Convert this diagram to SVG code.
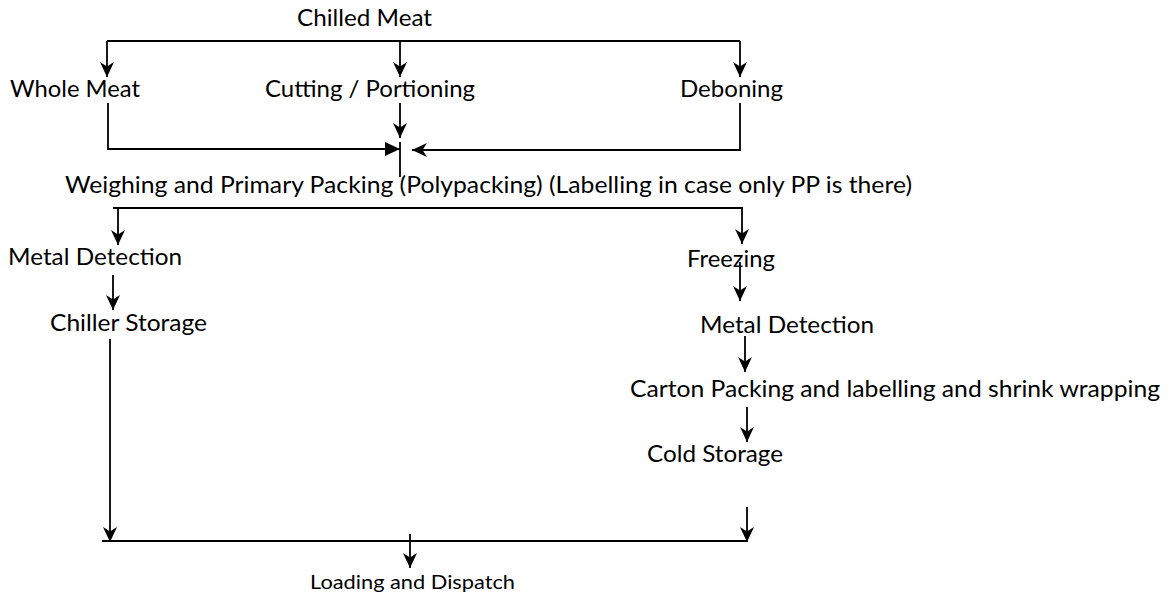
<svg xmlns="http://www.w3.org/2000/svg" width="1168" height="594" viewBox="0 0 1168 594">
  <style>
    .lbl { font-family: Lato, "Open Sans", "Liberation Sans", sans-serif; font-size: 23.5px; fill: #000; }
    .small { font-size: 20px; }
    .ln { stroke: #000; stroke-width: 1.8; fill: none; }
  </style>
  <defs>
    <!-- stealth arrowhead, tip at the path end -->
    <marker id="stealth" markerUnits="userSpaceOnUse" viewBox="-16 -8 17 16" refX="0" refY="0" markerWidth="17" markerHeight="16" orient="auto">
      <path d="M0,0 L-15,-7 L-10.5,0 L-15,7 Z" fill="#000"/>
    </marker>
    <!-- plain filled triangle arrowhead -->
    <marker id="tri" markerUnits="userSpaceOnUse" viewBox="-16 -8 17 16" refX="0" refY="0" markerWidth="17" markerHeight="16" orient="auto">
      <path d="M0,0 L-15,-7 L-15,7 Z" fill="#000"/>
    </marker>
  </defs>
  <rect width="1168" height="594" fill="#fff"/>

  <g id="connectors">
    <!-- split from Chilled Meat -->
    <path class="ln" d="M107,41 H740"/>
    <path class="ln" d="M107,41 V77" marker-end="url(#stealth)"/>
    <path class="ln" d="M400,41 V77" marker-end="url(#stealth)"/>
    <path class="ln" d="M740,41 V77" marker-end="url(#stealth)"/>
    <!-- merge into weighing -->
    <path class="ln" d="M108,103 V149 H400" marker-end="url(#tri)"/>
    <path class="ln" d="M400,103 V138" marker-end="url(#stealth)"/>
    <path class="ln" d="M740,103 V150 H412" marker-end="url(#stealth)"/>
    <path class="ln" d="M400,142 V177"/>
    <!-- split after weighing -->
    <path class="ln" d="M113,208 H743"/>
    <path class="ln" d="M118,208 V245" marker-end="url(#stealth)"/>
    <path class="ln" d="M742,208 V244" marker-end="url(#stealth)"/>
    <!-- chilled branch -->
    <path class="ln" d="M113,275 V310" marker-end="url(#stealth)"/>
    <path class="ln" d="M110,339 V542" marker-end="url(#stealth)"/>
    <!-- frozen branch -->
    <path class="ln" d="M740,262 V301" marker-end="url(#stealth)"/>
    <path class="ln" d="M745,336 V372" marker-end="url(#stealth)"/>
    <path class="ln" d="M747,407 V442" marker-end="url(#stealth)"/>
    <path class="ln" d="M747,507 V542" marker-end="url(#stealth)"/>
    <!-- final merge -->
    <path class="ln" d="M102,541 H748"/>
    <path class="ln" d="M410,534 V568" marker-end="url(#stealth)"/>
  </g>

  <g id="chilled-meat"><text class="lbl" x="297" y="26" textLength="135" lengthAdjust="spacingAndGlyphs">Chilled Meat</text></g>
  <g id="whole-meat"><text class="lbl" x="10" y="97" textLength="130" lengthAdjust="spacingAndGlyphs">Whole Meat</text></g>
  <g id="cutting"><text class="lbl" x="265" y="97" textLength="210" lengthAdjust="spacingAndGlyphs">Cutting / Portioning</text></g>
  <g id="deboning"><text class="lbl" x="680" y="97" textLength="103" lengthAdjust="spacingAndGlyphs">Deboning</text></g>
  <g id="weighing"><text class="lbl" x="65" y="193" textLength="847" lengthAdjust="spacingAndGlyphs">Weighing and Primary Packing (Polypacking) (Labelling in case only PP is there)</text></g>
  <g id="metal-detection-1"><text class="lbl" x="8" y="265" textLength="174" lengthAdjust="spacingAndGlyphs">Metal Detection</text></g>
  <g id="chiller-storage"><text class="lbl" x="50" y="331" textLength="157" lengthAdjust="spacingAndGlyphs">Chiller Storage</text></g>
  <g id="freezing"><text class="lbl" x="687" y="267" textLength="88" lengthAdjust="spacingAndGlyphs">Freezing</text></g>
  <g id="metal-detection-2"><text class="lbl" x="700" y="333" textLength="174" lengthAdjust="spacingAndGlyphs">Metal Detection</text></g>
  <g id="carton-packing"><text class="lbl" x="630" y="397" textLength="530" lengthAdjust="spacingAndGlyphs">Carton Packing and labelling and shrink wrapping</text></g>
  <g id="cold-storage"><text class="lbl" x="647" y="462" textLength="136" lengthAdjust="spacingAndGlyphs">Cold Storage</text></g>
  <g id="loading-dispatch"><text class="lbl small" x="310" y="589" textLength="205" lengthAdjust="spacingAndGlyphs">Loading and Dispatch</text></g>
</svg>
